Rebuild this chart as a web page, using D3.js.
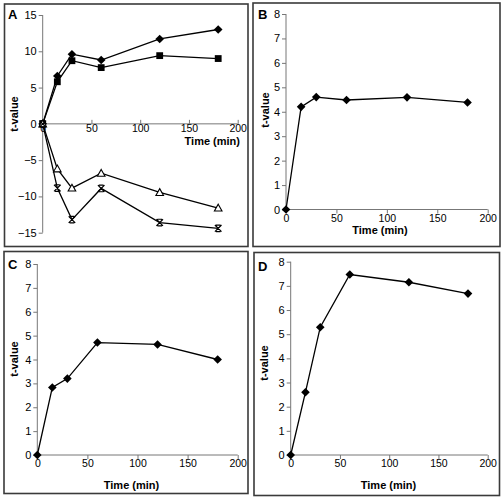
<!DOCTYPE html>
<html><head><meta charset="utf-8">
<script src="https://cdn.jsdelivr.net/npm/d3@7/dist/d3.min.js"></script>
<style>
html,body{margin:0;padding:0;background:#fff;}
svg text{font-family:"Liberation Sans",Arial,sans-serif;fill:#000;}
</style></head>
<body>
<svg id="c" width="502" height="500"></svg>
<script>
// ---- data ----
const times = [0, 15, 30, 60, 120, 180];
const xTicks = [0, 50, 100, 150, 200];
const panelLabels = ["A", "B", "C", "D"];
const yLabel = "t-value";
const xLabel = "Time (min)";
// Panel A series
const aDiamond = [0, 6.6, 9.6, 8.8, 11.7, 13.0];
const aSquare = [0, 5.8, 8.7, 7.75, 9.4, 9.0];
const aTriangle = [0, -6.2, -8.85, -6.8, -9.45, -11.6];
const aStar = [0, -8.85, -13.2, -8.9, -13.6, -14.4];
const aYTicks = [-15, -10, -5, 0, 5, 10, 15];
// Panels B, C, D
const bValues = [0, 4.2, 4.6, 4.48, 4.59, 4.38];
const cValues = [0, 2.83, 3.2, 4.71, 4.63, 4.0];
const dValues = [0, 2.6, 5.29, 7.47, 7.15, 6.68];
const bcdYTicks = [0, 1, 2, 3, 4, 5, 6, 7, 8];

const svg = d3.select("#c");

const panels = [
  {label: panelLabels[0], frame: [4.5, 4, 248, 246.5], xr: [42.7, 237.7], yr: [232.7, 15], yd: [-15, 15],
   yt: aYTicks, letter: [8, 18.5], tlab: {x: 240, y: 145, anchor: "end"}, ylab: [14.5, 114], xAxisAtZero: true,
   series: [{v: aDiamond, m: "diamond"}, {v: aSquare, m: "square"}, {v: aTriangle, m: "triangle"}, {v: aStar, m: "star"}]},
  {label: panelLabels[1], frame: [253, 3, 500, 246.5], xr: [286, 487.7], yr: [209.5, 14], yd: [0, 8],
   yt: bcdYTicks, letter: [258, 19], tlab: {x: 380, y: 234, anchor: "middle"}, ylab: [265, 110],
   series: [{v: bValues, m: "diamond"}]},
  {label: panelLabels[2], frame: [4, 251.5, 248, 493.5], xr: [37.3, 237.7], yr: [455, 264], yd: [0, 8],
   yt: bcdYTicks, letter: [8, 268.5], tlab: {x: 131.5, y: 488.5, anchor: "middle"}, ylab: [14, 359],
   series: [{v: cValues, m: "diamond"}]},
  {label: panelLabels[3], frame: [254, 252.5, 499.5, 495.5], xr: [290.7, 487.7], yr: [455, 261.7], yd: [0, 8],
   yt: bcdYTicks, letter: [258, 270.5], tlab: {x: 388.5, y: 489, anchor: "middle"}, ylab: [264, 363],
   series: [{v: dValues, m: "diamond"}]}
];

function marker(g, m, x, y) {
  if (m === "diamond") {
    const s = 4.3;
    g.append("path").attr("d", `M${x},${y-s}L${x+s},${y}L${x},${y+s}L${x-s},${y}Z`).attr("fill", "#000");
  } else if (m === "square") {
    g.append("rect").attr("x", x - 3.4).attr("y", y - 3.4).attr("width", 6.8).attr("height", 6.8).attr("fill", "#000");
  } else if (m === "triangle") {
    g.append("path").attr("d", `M${x},${y-3.8}L${x+3.8},${y+3}L${x-3.8},${y+3}Z`)
      .attr("fill", "#fff").attr("stroke", "#000").attr("stroke-width", 1.1);
  } else if (m === "star") {
    const s = 3.3;
    g.append("path").attr("d", `M${x-s},${y-s}L${x+s},${y+s}M${x+s},${y-s}L${x-s},${y+s}M${x-s*0.7},${y-s}L${x+s*0.7},${y-s}M${x-s*0.7},${y+s}L${x+s*0.7},${y+s}`)
      .attr("stroke", "#000").attr("stroke-width", 1.2).attr("fill", "none");
  }
}

panels.forEach(p => {
  const g = svg.append("g");
  const [fx0, fy0, fx1, fy1] = p.frame;
  g.append("rect").attr("x", fx0).attr("y", fy0).attr("width", fx1 - fx0).attr("height", fy1 - fy0)
    .attr("fill", "none").attr("stroke", "#3a3a3a").attr("stroke-width", 1.6);

  const x = d3.scaleLinear().domain([0, 200]).range(p.xr);
  const y = d3.scaleLinear().domain(p.yd).range(p.yr);

  // y axis
  const ya = g.append("g").attr("transform", `translate(${x(0)},0)`)
    .call(d3.axisLeft(y).tickValues(p.yt).tickSize(4).tickPadding(2).tickFormat(d3.format("d")));
  // x axis
  const xAxis = p.xAxisAtZero
    ? d3.axisBottom(x).tickValues(xTicks).tickSize(-4).tickPadding(1)
    : d3.axisBottom(x).tickValues(xTicks).tickSize(4).tickPadding(1);
  const xa = g.append("g").attr("transform", `translate(0,${y(0)})`).call(xAxis);
  [ya, xa].forEach(a => {
    a.select(".domain").attr("stroke", "#777").attr("stroke-width", 1);
    a.selectAll(".tick line").attr("stroke", "#777");
    a.selectAll("text").attr("font-size", 11).attr("font-family", "Liberation Sans, Arial, sans-serif").attr("fill", "#000");
  });
  xa.selectAll("text").attr("font-size", 10.5);
  ya.select(".domain").attr("d", `M0,${y(p.yd[1])}V${y(p.yd[0])}`);
  xa.select(".domain").attr("d", `M${x(0)},0H${x(200)}`);

  // axis titles
  g.append("text").attr("x", p.tlab.x).attr("y", p.tlab.y).attr("text-anchor", p.tlab.anchor)
    .attr("font-size", 11).attr("font-weight", "bold").text(xLabel);
  g.append("text").attr("transform", `translate(${p.ylab[0]},${p.ylab[1]}) rotate(-90)`)
    .attr("text-anchor", "middle").attr("dy", "0.35em").attr("font-size", 11).attr("font-weight", "bold").text(yLabel);
  // panel letter
  g.append("text").attr("x", p.letter[0]).attr("y", p.letter[1]).attr("font-size", 13).attr("font-weight", "bold").text(p.label);

  // series
  const line = d3.line().x((d, i) => x(times[i])).y(d => y(d));
  p.series.forEach(s => {
    g.append("path").attr("d", line(s.v)).attr("fill", "none").attr("stroke", "#000").attr("stroke-width", 1.3);
  });
  p.series.forEach(s => {
    s.v.forEach((v, i) => marker(g, s.m, x(times[i]), y(v)));
  });
});
</script>
</body></html>
